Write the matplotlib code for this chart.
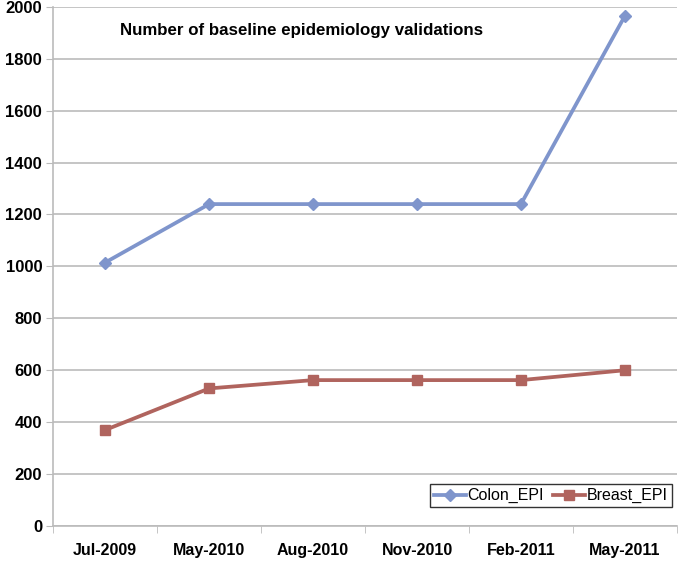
import matplotlib.pyplot as plt

months = ["Jul-2009", "May-2010", "Aug-2010", "Nov-2010", "Feb-2011", "May-2011"]
colon_epi = [1015, 1240, 1240, 1240, 1240, 1965]
breast_epi = [370, 530, 562, 562, 562, 600]

plt.rcParams["font.family"] = ["Liberation Sans", "DejaVu Sans"]

fig = plt.figure(figsize=(6.83, 5.65), dpi=100)
ax = fig.add_axes([0.078, 0.069, 0.913, 0.919])

x = list(range(len(months)))
ax.plot(x, colon_epi, color="#7F95CC", lw=2.7, marker="D", ms=6.5, label="Colon_EPI")
ax.plot(x, breast_epi, color="#B0645E", lw=2.7, marker="s", ms=7.5, label="Breast_EPI")

ax.set_xlim(-0.5, 5.5)
ax.set_ylim(0, 2000)
ax.set_yticks(range(0, 2001, 200))
ax.set_xticks(x)
ax.set_xticklabels(months, fontsize=11.5, fontweight="bold")
ax.set_xticks([i + 0.5 for i in range(-1, 6)], minor=True)
ax.tick_params(axis="x", which="major", length=0, pad=12)
ax.tick_params(axis="x", which="minor", length=5, color="#BBBBBB")
ax.tick_params(axis="y", length=5, color="#BBBBBB", labelsize=12, pad=3)
for lab in ax.get_yticklabels():
    lab.set_fontweight("bold")

ax.grid(axis="y", color="#BBBBBB", lw=1.2)
ax.set_axisbelow(True)
for side in ["top", "right"]:
    ax.spines[side].set_visible(False)
for side in ["left", "bottom"]:
    ax.spines[side].set_color("#BBBBBB")
    ax.spines[side].set_linewidth(1.2)

ax.text(0.107, 0.955, "Number of baseline epidemiology validations",
        transform=ax.transAxes, fontsize=12.2, fontweight="bold", va="center")

leg = ax.legend(loc="lower right", ncol=2, fontsize=11.5, frameon=True, fancybox=False,
                bbox_to_anchor=(0.997, 0.03), handlelength=2.0, columnspacing=0.6,
                handletextpad=0.1, borderpad=0.25, borderaxespad=0.2)
leg.get_frame().set_edgecolor("black")
leg.get_frame().set_linewidth(1.0)

fig.savefig("out.png", dpi=100)
